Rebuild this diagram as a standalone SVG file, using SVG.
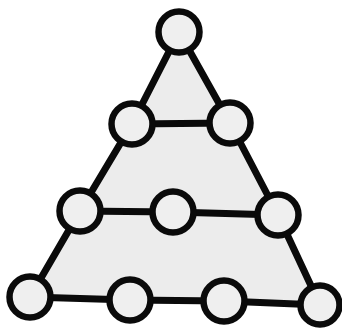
<svg xmlns="http://www.w3.org/2000/svg" width="342" height="328" viewBox="0 0 342 328">
<style>
.edge{stroke:#0a0a0a;stroke-width:7;stroke-linecap:round;fill:none}
.node{fill:#efefef;stroke:#0a0a0a;stroke-width:6.5}
.area{fill:#ececec;stroke:none}
</style>
<rect width="342" height="328" fill="#ffffff"/>
<polygon class="area" points="179,32 230,123 278,215 320,305 224,301 130,300 30,297 80,211 132,124"/>
<g id="connectors">
<line class="edge" x1="179" y1="32" x2="132" y2="124"/>
<line class="edge" x1="132" y1="124" x2="80" y2="211"/>
<line class="edge" x1="80" y1="211" x2="30" y2="297"/>
<line class="edge" x1="179" y1="32" x2="230" y2="123"/>
<line class="edge" x1="230" y1="123" x2="278" y2="215"/>
<line class="edge" x1="278" y1="215" x2="320" y2="305"/>
<line class="edge" x1="132" y1="124" x2="230" y2="123"/>
<line class="edge" x1="80" y1="211" x2="173" y2="212"/>
<line class="edge" x1="173" y1="212" x2="278" y2="215"/>
<line class="edge" x1="30" y1="297" x2="130" y2="300"/>
<line class="edge" x1="130" y1="300" x2="224" y2="301"/>
<line class="edge" x1="224" y1="301" x2="320" y2="305"/>
</g>
<g id="n1"><circle class="node" cx="179" cy="32" r="20.5"/></g>
<g id="n2a"><circle class="node" cx="132" cy="124" r="20.5"/></g>
<g id="n2b"><circle class="node" cx="230" cy="123" r="20.5"/></g>
<g id="n3a"><circle class="node" cx="80" cy="211" r="20.5"/></g>
<g id="n3b"><circle class="node" cx="173" cy="212" r="20.5"/></g>
<g id="n3c"><circle class="node" cx="278" cy="215" r="20.5"/></g>
<g id="n4a"><circle class="node" cx="30" cy="297" r="20.5"/></g>
<g id="n4b"><circle class="node" cx="130" cy="300" r="20.5"/></g>
<g id="n4c"><circle class="node" cx="224" cy="301" r="20.5"/></g>
<g id="n4d"><circle class="node" cx="320" cy="305" r="19.5"/></g>
</svg>
